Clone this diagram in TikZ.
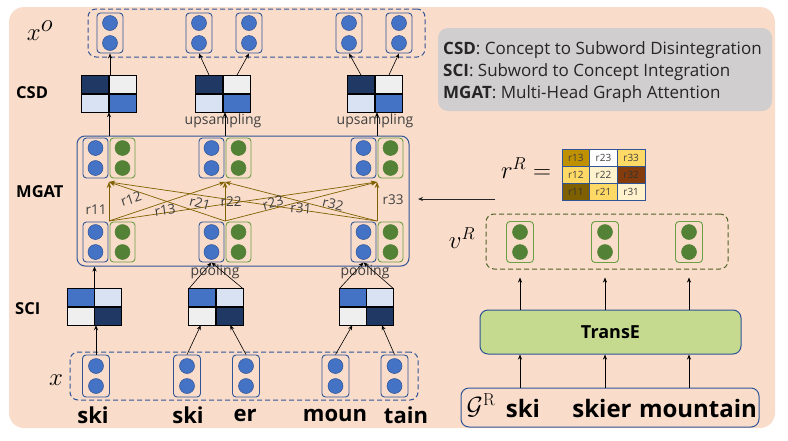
\documentclass[tikz,border=0pt]{standalone}
\usepackage[no-math]{fontspec}
\setmainfont{Open Sans}
\usetikzlibrary{arrows.meta,calc}
\definecolor{bgpeach}{HTML}{F9DCC9}
\definecolor{blueline}{HTML}{2F5597}
\definecolor{bluefill}{HTML}{4472C4}
\definecolor{navy}{HTML}{1F3864}
\definecolor{lblue}{HTML}{D9E2F3}
\definecolor{lgray}{HTML}{EFEFEF}
\definecolor{greenline}{HTML}{6A9F45}
\definecolor{greenfill}{HTML}{538135}
\definecolor{edgeolive}{HTML}{7F6000}
\definecolor{leggray}{HTML}{D0CECE}
\definecolor{transefill}{HTML}{C5D98F}
\definecolor{goldA}{HTML}{BF9000}
\definecolor{goldB}{HTML}{FFD966}
\definecolor{goldC}{HTML}{FFF2CC}
\definecolor{brownA}{HTML}{843C0C}
\definecolor{dgreen}{HTML}{4F6228}
\definecolor{txtgray}{HTML}{404040}
\newcommand{\myvec}[5]{%
  \node[#1] (#3) at (#4,#5) {};
  \node[#2] (#3u) at (#4,#5-10) {};
  \node[#2] (#3d) at (#4,#5+10) {};
}
\newcommand{\mymat}[7]{%
  \node[matbox] (#1) at (#2,#3) {};
  \fill[#4] (#1.north west) rectangle (#1.center);
  \fill[#5] (#1.north) rectangle (#1.east);
  \fill[#6] (#1.west) rectangle (#1.south);
  \fill[#7] (#1.center) rectangle (#1.south east);
  \draw[line width=1.2pt] (#1.north) -- (#1.south) (#1.west) -- (#1.east);
  \draw[line width=1.2pt] (#1.north west) rectangle (#1.south east);
}
\begin{document}
\begin{tikzpicture}[x=1pt,y=-1pt,
  bbox/.style={draw=blueline, line width=0.9pt, rounded corners=3.5pt, minimum width=26pt, minimum height=40pt, inner sep=0pt},
  gbox/.style={bbox, draw=greenline},
  bdot/.style={circle, fill=bluefill, draw=blueline, line width=0.5pt, minimum size=15pt, inner sep=0pt},
  gdot/.style={circle, fill=greenfill, draw=greenfill, line width=0.5pt, minimum size=15pt, inner sep=0pt},
  matbox/.style={minimum width=54pt, minimum height=36pt, inner sep=0pt},
  arr/.style={-{Stealth[length=5pt,width=4pt]}, line width=0.6pt},
  oarr/.style={-{Stealth[length=6pt,width=4.5pt]}, line width=0.7pt, draw=edgeolive},
  dashbox/.style={draw=blueline, dash pattern=on 5pt off 3pt, line width=1pt, rounded corners=8pt, inner sep=0pt},
  sidelab/.style={font=\bfseries\fontsize{16.5}{18}\selectfont, anchor=west, inner sep=0pt},
  small/.style={font=\fontsize{14}{16}\selectfont, text=txtgray, inner sep=0pt},
  rlab/.style={font=\fontsize{13.5}{15}\selectfont, text=txtgray, inner sep=0pt},
  word/.style={font=\bfseries\fontsize{22}{25}\selectfont, inner sep=0pt},
  gword/.style={font=\bfseries\fontsize{24}{27}\selectfont, inner sep=0pt},
  leg/.style={font=\fontsize{17}{19}\selectfont, text=black!85, anchor=west, inner sep=0pt},
  rcell/.style={draw=blueline, line width=0.8pt, minimum width=27.7pt, minimum height=17pt, inner sep=0pt, font=\fontsize{10}{11}\selectfont, text=txtgray}
]
\useasboundingbox (0,0) rectangle (788,440);
\fill[bgpeach, rounded corners=15pt] (9,7) rectangle (775,428);

% ---------- top x^o row ----------
\node[dashbox, minimum width=337pt, minimum height=48pt] (xobox) at (256.5,33) {};
\node[font=\fontsize{34}{36}\selectfont] (xolab) at (40,31) {$x^o$};
\myvec{bbox}{bdot}{xo1}{110}{33}
\myvec{bbox}{bdot}{xo2}{199}{33}
\myvec{bbox}{bdot}{xo3}{249}{33}
\myvec{bbox}{bdot}{xo4}{349}{33}
\myvec{bbox}{bdot}{xo5}{399}{33}

% ---------- CSD ----------
\node[sidelab] (csdlab) at (16,93) {CSD};
\mymat{csd1}{109}{94}{navy}{lgray}{lblue}{bluefill}
\mymat{csd2}{223}{94}{navy}{lgray}{lblue}{bluefill}
\mymat{csd3}{375}{94}{navy}{lgray}{lblue}{bluefill}
\draw[arr] (csd1.north -| xo1) -- (xo1.south);
\draw[arr] ($(csd2.north west)!.25!(csd2.north east)$) -- (xo2.south);
\draw[arr] ($(csd2.north west)!.75!(csd2.north east)$) -- (xo3.south);
\draw[arr] ($(csd3.north west)!.25!(csd3.north east)$) -- (xo4.south);
\draw[arr] ($(csd3.north west)!.75!(csd3.north east)$) -- (xo5.south);
\node[small] (ups1) at (223,121) {upsampling};
\node[small] (ups2) at (375,121) {upsampling};

% ---------- MGAT ----------
\node[sidelab] (mgatlab) at (16,192) {MGAT};
\node[draw=blueline, line width=1pt, rounded corners=8pt, minimum width=332pt, minimum height=130pt, inner sep=0pt] (mgat) at (243,201) {};
\myvec{bbox, minimum width=25pt}{bdot}{mt1}{95.5}{158}
\myvec{gbox, minimum width=25pt}{gdot}{mtg1}{122.5}{158}
\myvec{bbox, minimum width=25pt}{bdot}{mt2}{211.5}{158}
\myvec{gbox, minimum width=25pt}{gdot}{mtg2}{238.5}{158}
\myvec{bbox, minimum width=25pt}{bdot}{mt3}{363.5}{158}
\myvec{gbox, minimum width=25pt}{gdot}{mtg3}{390.5}{158}
\myvec{bbox, minimum width=25pt}{bdot}{mb1}{95.5}{242}
\myvec{gbox, minimum width=25pt}{gdot}{mbg1}{122.5}{242}
\myvec{bbox, minimum width=25pt}{bdot}{mb2}{211.5}{242}
\myvec{gbox, minimum width=25pt}{gdot}{mbg2}{238.5}{242}
\myvec{bbox, minimum width=25pt}{bdot}{mb3}{363.5}{242}
\myvec{gbox, minimum width=25pt}{gdot}{mbg3}{390.5}{242}
\coordinate (t1) at (109,182);
\coordinate (t2) at (225,182);
\coordinate (t3) at (377,182);
\coordinate (b1) at (109,221);
\coordinate (b2) at (225,221);
\coordinate (b3) at (377,221);
\foreach \i in {1,2,3}{\foreach \j in {1,2,3}{\draw[oarr] (b\i) -- (t\j);}}
\node[rlab] (l11) at (96,210) {r11};
\node[rlab, rotate=18] (l12) at (131,199) {r12};
\node[rlab, rotate=8] (l13) at (165,210) {r13};
\node[rlab, rotate=-15] (l21) at (200,203) {r21};
\node[rlab] (l22) at (231,202) {r22};
\node[rlab, rotate=15] (l23) at (273,203) {r23};
\node[rlab, rotate=-4] (l31) at (301,208) {r31};
\node[rlab, rotate=-14] (l32) at (333,204) {r32};
\node[rlab] (l33) at (393,200) {r33};
\draw[arr] (mgat.north -| t1) -- (csd1.south -| t1);
\draw[arr] (mgat.north -| t2) -- (csd2.south -| t2);
\draw[arr] (mgat.north -| t3) -- (csd3.south -| t3);

% ---------- SCI ----------
\node[sidelab] (scilab) at (15,309) {SCI};
\mymat{sci1}{94.5}{307}{bluefill}{lblue}{lgray}{navy}
\mymat{sci2}{216}{307}{bluefill}{lblue}{lgray}{navy}
\mymat{sci3}{366.5}{307}{bluefill}{lblue}{lgray}{navy}
\node[small] (pool1) at (215,272) {pooling};
\node[small] (pool2) at (365,272) {pooling};
\draw[arr] (sci1.north) -- (sci1.north |- mgat.south);
\draw[arr] (sci2.north west) -- (mb2.south);
\draw[arr] (sci2.north east) -- (mb2.south);
\draw[arr] (sci3.north west) -- (mb3.south);
\draw[arr] (sci3.north east) -- (mb3.south);

% ---------- bottom x row ----------
\node[dashbox, minimum width=348pt, minimum height=48pt] (xbox) at (244,376) {};
\node[font=\fontsize{26}{28}\selectfont] (xlab) at (56,380) {$x$};
\myvec{bbox, minimum width=27pt, minimum height=42pt}{bdot}{x1}{96}{376}
\myvec{bbox, minimum width=27pt, minimum height=42pt}{bdot}{x2}{187}{376}
\myvec{bbox, minimum width=27pt, minimum height=42pt}{bdot}{x3}{246}{376}
\myvec{bbox, minimum width=27pt, minimum height=42pt}{bdot}{x4}{335.5}{376}
\myvec{bbox, minimum width=27pt, minimum height=42pt}{bdot}{x5}{394.5}{376}
\draw[arr] (x1.north) -- (sci1.south -| x1);
\draw[arr] (x2.north) -- ($(sci2.south west)!.22!(sci2.south east)$);
\draw[arr] (x3.north) -- ($(sci2.south west)!.76!(sci2.south east)$);
\draw[arr] (x4.north) -- ($(sci3.south west)!.24!(sci3.south east)$);
\draw[arr] (x5.north) -- ($(sci3.south west)!.78!(sci3.south east)$);
\node[word] (w1) at (93,415) {ski};
\node[word] (w2) at (188,415) {ski};
\node[word] (w3) at (245,415) {er};
\node[word] (w4) at (335,415) {moun};
\node[word] (w5) at (406,415) {tain};

% ---------- legend ----------
\node[fill=leggray, rounded corners=10pt, minimum width=334pt, minimum height=83pt, inner sep=0pt] (legend) at (605,69.5) {};
\node[leg] (leg1) at (443,50) {\textbf{CSD}: Concept to Subword Disintegration};
\node[leg] (leg2) at (443,72) {\textbf{SCI}: Subword to Concept Integration};
\node[leg] (leg3) at (443,94) {\textbf{MGAT}: Multi-Head Graph Attention};

% ---------- r^R ----------
\node[font=\fontsize{25}{27}\selectfont] (rlabel) at (526,168) {$r^R =$};
\node[rcell, fill=goldA] (c13) at (575.8,157.5) {r13};
\node[rcell, fill=white] (c23) at (603.5,157.5) {r23};
\node[rcell, fill=goldB] (c33) at (631.2,157.5) {r33};
\node[rcell, fill=goldB] (c12) at (575.8,174.5) {r12};
\node[rcell, fill=goldC] (c22) at (603.5,174.5) {r22};
\node[rcell, fill=brownA, text=black!80] (c32) at (631.2,174.5) {r32};
\node[rcell, fill=edgeolive, text=black!80] (c11) at (575.8,191.5) {r11};
\node[rcell, fill=goldB] (c21) at (603.5,191.5) {r21};
\node[rcell, fill=goldC] (c31) at (631.2,191.5) {r31};
\coordinate (rs) at (495,199);
\coordinate (re) at (418,199);
\draw[arr, draw=black!85, line width=0.8pt] (rs) -- (re);

% ---------- v^R ----------
\node[font=\fontsize{25}{27}\selectfont] (vlabel) at (462,238) {$v^R$};
\node[draw=dgreen, dash pattern=on 5pt off 3pt, line width=1pt, rounded corners=8pt, minimum width=242pt, minimum height=55pt, inner sep=0pt] (vrbox) at (607,241.5) {};
\myvec{gbox, minimum width=27pt, minimum height=41pt}{gdot}{vr1}{520}{242}
\myvec{gbox, minimum width=27pt, minimum height=41pt}{gdot}{vr2}{605}{242}
\myvec{gbox, minimum width=27pt, minimum height=41pt}{gdot}{vr3}{689}{242}

% ---------- TransE ----------
\node[draw=blueline, fill=transefill, line width=1pt, rounded corners=8pt, minimum width=261pt, minimum height=44pt, inner sep=0pt, font=\bfseries\fontsize{18}{20}\selectfont] (transe) at (610.5,332) {TransE};
\draw[arr] (transe.north -| vr1) -- ($(vrbox.south -| vr1)+(0,8)$);
\draw[arr] (transe.north -| vr2) -- ($(vrbox.south -| vr2)+(0,8)$);
\draw[arr] (transe.north -| vr3) -- ($(vrbox.south -| vr3)+(0,8)$);

% ---------- G^R ----------
\node[draw=blueline, line width=1pt, rounded corners=8pt, minimum width=298pt, minimum height=39pt, inner sep=0pt] (grbox) at (610,407.5) {};
\draw[arr] (grbox.north -| vr1) -- (transe.south -| vr1);
\draw[arr] (grbox.north -| vr2) -- (transe.south -| vr2);
\draw[arr] (grbox.north -| vr3) -- (transe.south -| vr3);
\node[font=\fontsize{24}{26}\selectfont, inner sep=0pt] (gsym) at (481,405) {$\mathcal{G}^{\mathrm{R}}$};
\node[gword] (g1) at (523,408) {ski};
\node[gword] (g2) at (602,408) {skier};
\node[gword] (g3) at (698,408) {mountain};
\end{tikzpicture}
\end{document}
